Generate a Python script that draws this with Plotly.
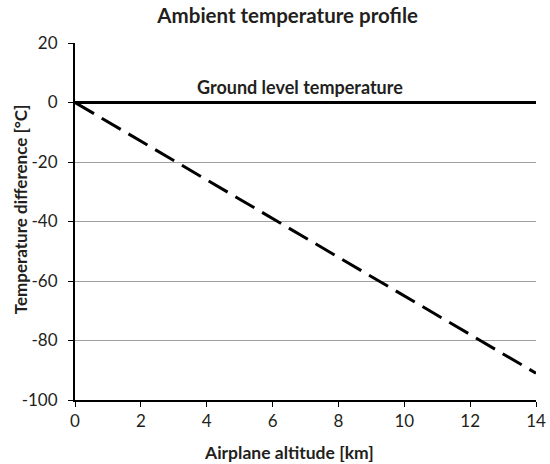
import plotly.graph_objects as go

altitude_km = [0, 14]
ground_temp = [0, 0]
ambient_temp = [0, -91]
x_ticks = [0, 2, 4, 6, 8, 10, 12, 14]
y_ticks = [-100, -80, -60, -40, -20, 0, 20]
y_tick_labels = ["-100", "-80", "-60", "-40", "-20", "0", "20"]

font_family = "Lato, Open Sans, sans-serif"
text_color = "#231f20"

fig = go.Figure()
fig.add_trace(go.Scatter(x=altitude_km, y=ground_temp, mode="lines",
                         line=dict(color="black", width=3), showlegend=False))
fig.add_trace(go.Scatter(x=altitude_km, y=ambient_temp, mode="lines",
                         line=dict(color="black", width=3, dash="22px,9px"), showlegend=False))

fig.add_annotation(x=6.83, y=0, yshift=16, text="<b>Ground level temperature</b>",
                   showarrow=False, font=dict(size=18, color=text_color, family=font_family))

# axis titles as annotations for precise placement
fig.add_annotation(xref="paper", yref="paper", x=0.464, y=-0.148, xanchor="center",
                   yanchor="middle", text="<b>Airplane altitude [km]</b>", showarrow=False,
                   font=dict(size=17.5, color=text_color, family=font_family))
fig.add_annotation(xref="paper", yref="paper", x=-0.119, y=0.535, xanchor="center",
                   yanchor="middle", textangle=-90,
                   text="<b>Temperature difference [°C]</b>", showarrow=False,
                   font=dict(size=17, color=text_color, family=font_family))

fig.update_layout(
    width=550, height=464,
    margin=dict(l=75, r=14, t=43, b=64, autoexpand=False),
    paper_bgcolor="white", plot_bgcolor="white",
    font=dict(family=font_family, size=17, color=text_color),
    title=dict(text="<b>Ambient temperature profile</b>", x=0.523, xanchor="center",
               y=0.965, yanchor="middle", font=dict(size=20.5, color=text_color)),
    xaxis=dict(range=[0, 14], tickvals=x_ticks, showgrid=False, showline=True,
               linecolor="black", linewidth=2, ticks="outside", ticklen=5, tickcolor="black",
               zeroline=False, automargin=False, tickfont=dict(size=17)),
    yaxis=dict(range=[-100, 20], tickvals=y_ticks, ticktext=y_tick_labels, showgrid=True,
               gridcolor="#a0a0a0", gridwidth=1, showline=True, linecolor="black",
               linewidth=2, ticks="outside", ticklen=5, tickcolor="black", zeroline=False,
               automargin=False, tickfont=dict(size=17), ticklabelstandoff=7),
)

fig.write_html("out.html")
